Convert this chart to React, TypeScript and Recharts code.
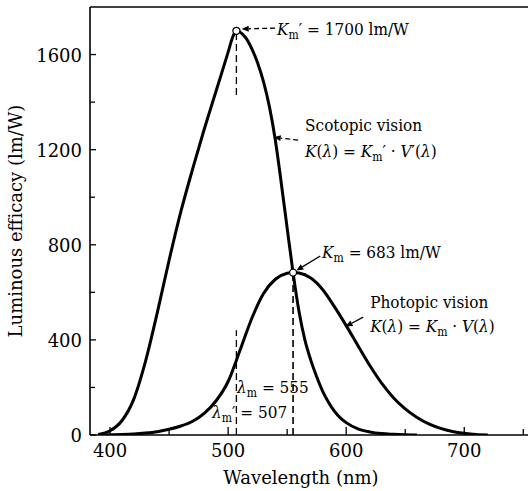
import React from 'react';
import { LineChart, Line, XAxis, YAxis, ReferenceLine, ReferenceDot } from 'recharts';

const FONT_MAIN = 'DejaVu Serif';
const FONT = 'DejaVu Serif Condensed';

// Photopic vision K(λ) = Km · V(λ)
const photopicWavelengths = [390, 400, 410, 420, 430, 440, 450, 460, 470, 480, 490, 500, 510, 520, 530, 540, 550, 555, 560, 570, 580, 590, 600, 610, 620, 630, 640, 650, 660, 670, 680, 690, 700, 710, 720];
const photopicEfficacy = [0, 1, 2, 4, 8, 14, 24, 38, 58, 92, 145, 225, 355, 490, 595, 655, 680, 683, 681, 660, 612, 540, 460, 375, 292, 218, 157, 110, 74, 47, 28, 15, 7, 2, 0];

// Scotopic vision K(λ) = Km' · V'(λ)
const scotopicWavelengths = [390, 400, 410, 420, 430, 440, 450, 460, 470, 480, 490, 500, 504, 507, 510, 515, 520, 525, 530, 535, 540, 545, 550, 555, 560, 565, 570, 575, 580, 585, 590, 595, 600, 610, 620, 630, 640, 650, 660];
const scotopicEfficacy = [2, 18, 60, 150, 310, 515, 735, 940, 1120, 1290, 1450, 1610, 1675, 1700, 1695, 1670, 1625, 1565, 1485, 1380, 1240, 1060, 870, 683, 520, 400, 315, 245, 185, 138, 100, 72, 52, 26, 13, 6, 3, 1, 0];

const xTicks = [400, 450, 500, 550, 600, 650, 700, 750];
const xMajorTicks = [400, 500, 600, 700];
const yTicks = [0, 200, 400, 600, 800, 1000, 1200, 1400, 1600];
const yMajorTicks = [0, 400, 800, 1200, 1600];

const photopicData = photopicWavelengths.map((x, i) => ({ x, v: photopicEfficacy[i] }));
const scotopicData = scotopicWavelengths.map((x, i) => ({ x, v: scotopicEfficacy[i] }));

const TICK_SZ = 18;
const TITLE_SZ = 18;

const XTick = (props: any) => {
  const { x, y, payload } = props;
  const major = xMajorTicks.includes(payload.value);
  return (
    <g>
      <line x1={x} x2={x} y1={y} y2={y - (major ? 8 : 6)} stroke="#000" strokeWidth={1.3} />
      {major && (
        <text x={x} y={y + 22} textAnchor="middle" fontSize={TICK_SZ} style={{ fontFamily: FONT_MAIN }} fill="#000">
          {payload.value}
        </text>
      )}
    </g>
  );
};

const YTick = (props: any) => {
  const { x, y, payload } = props;
  const major = yMajorTicks.includes(payload.value);
  return (
    <g>
      <line x1={x} x2={x + (major ? 6 : 5)} y1={y} y2={y} stroke="#000" strokeWidth={1.3} />
      {major && (
        <text x={x - 8} y={y + 7} textAnchor="end" fontSize={TICK_SZ} style={{ fontFamily: FONT_MAIN }} fill="#000">
          {payload.value}
        </text>
      )}
    </g>
  );
};

const SZ = 17;
const SUB = 12;

const textShape = (content: React.ReactNode) => (p: any) => (
  <text x={p.cx} y={p.cy} fontSize={SZ} style={{ fontFamily: FONT }} fill="#000">
    {content}
  </text>
);

const arrowShape = (dashed: boolean) => (p: any) => {
  const { x1, y1, x2, y2 } = p;
  const dx = x2 - x1;
  const dy = y2 - y1;
  const len = Math.sqrt(dx * dx + dy * dy) || 1;
  const ux = dx / len;
  const uy = dy / len;
  const hl = 7;
  const hw = 3;
  const bx = x2 - ux * hl;
  const by = y2 - uy * hl;
  const pts = `${x2},${y2} ${bx - uy * hw},${by + ux * hw} ${bx + uy * hw},${by - ux * hw}`;
  return (
    <g>
      <line x1={x1} y1={y1} x2={bx} y2={by} stroke="#000" strokeWidth={1.3} strokeDasharray={dashed ? '5 3' : undefined} />
      <polygon points={pts} fill="#000" />
    </g>
  );
};

const it = { fontStyle: 'italic' as const };

export default function App() {
  return (
    <div style={{ position: 'absolute', left: 0, top: 0 }}>
      <LineChart width={530} height={491} margin={{ top: 7, right: 2, bottom: 0, left: 0 }}>
        <XAxis
          type="number"
          dataKey="x"
          domain={[383, 754]}
          allowDataOverflow
          ticks={xTicks}
          interval={0}
          tickSize={0}
          tickMargin={0}
          tick={<XTick />}
          tickLine={false}
          axisLine={{ stroke: '#000', strokeWidth: 1.6 }}
          height={56}
          label={({ viewBox }: any) => (
            <text x={viewBox.x + viewBox.width / 2 - 8} y={viewBox.y + 49} textAnchor="middle" fontSize={TITLE_SZ} style={{ fontFamily: FONT_MAIN }} fill="#000">
              Wavelength (nm)
            </text>
          )}
        />
        <YAxis
          type="number"
          domain={[0, 1800]}
          allowDataOverflow
          ticks={yTicks}
          interval={0}
          tickSize={0}
          tickMargin={0}
          tick={<YTick />}
          tickLine={false}
          axisLine={{ stroke: '#000', strokeWidth: 1.6 }}
          width={90}
          label={({ viewBox }: any) => {
            const cx = 22;
            const cy = viewBox.y + viewBox.height / 2;
            return (
              <text x={cx} y={cy} transform={`rotate(-90 ${cx} ${cy})`} textAnchor="middle" fontSize={TITLE_SZ} style={{ fontFamily: FONT_MAIN }} fill="#000">
                Luminous efficacy (lm/W)
              </text>
            );
          }}
        />
        <ReferenceLine y={1800} stroke="#000" strokeWidth={1.6} />

        <ReferenceLine segment={[{ x: 507, y: 1430 }, { x: 507, y: 1700 }]} stroke="#000" strokeWidth={1.3} strokeDasharray="7 4" />
        <ReferenceLine segment={[{ x: 507, y: 0 }, { x: 507, y: 441 }]} stroke="#000" strokeWidth={1.3} strokeDasharray="7 4" />
        <ReferenceLine segment={[{ x: 555, y: 0 }, { x: 555, y: 683 }]} stroke="#000" strokeWidth={1.6} strokeDasharray="7 4" />

        <Line data={scotopicData} dataKey="v" type="monotone" stroke="#000" strokeWidth={3} dot={false} isAnimationActive={false} />
        <Line data={photopicData} dataKey="v" type="monotone" stroke="#000" strokeWidth={3} dot={false} isAnimationActive={false} />

        <ReferenceDot x={507} y={1700} r={3.5} fill="#fff" stroke="#000" strokeWidth={1.3} />
        <ReferenceDot x={555} y={683} r={3.5} fill="#fff" stroke="#000" strokeWidth={1.3} />

        <ReferenceLine segment={[{ x: 539.8, y: 1711 }, { x: 511.5, y: 1708 }]} shape={arrowShape(true)} />
        <ReferenceLine segment={[{ x: 559.3, y: 1240 }, { x: 538.6, y: 1252 }]} shape={arrowShape(true)} />
        <ReferenceLine segment={[{ x: 578, y: 753 }, { x: 557.8, y: 692 }]} shape={arrowShape(false)} />
        <ReferenceLine segment={[{ x: 614.4, y: 496 }, { x: 599.5, y: 456 }]} shape={arrowShape(false)} />

        <ReferenceDot
          x={541.5}
          y={1682}
          shape={textShape(
            <>
              <tspan {...it}>K</tspan>
              <tspan fontSize={SUB} dy={4}>m</tspan>
              <tspan dy={-4}>′ = 1700 lm/W</tspan>
            </>
          )}
        />
        <ReferenceDot x={565.2} y={1278} shape={textShape(<>Scotopic vision</>)} />
        <ReferenceDot
          x={565.2}
          y={1169}
          shape={textShape(
            <>
              <tspan {...it}>K</tspan>
              <tspan>(</tspan>
              <tspan {...it}>λ</tspan>
              <tspan>) = </tspan>
              <tspan {...it}>K</tspan>
              <tspan fontSize={SUB} dy={4}>m</tspan>
              <tspan dy={-4}>′ · </tspan>
              <tspan {...it}>V</tspan>
              <tspan>′(</tspan>
              <tspan {...it}>λ</tspan>
              <tspan>)</tspan>
            </>
          )}
        />
        <ReferenceDot
          x={579.6}
          y={744}
          shape={textShape(
            <>
              <tspan {...it}>K</tspan>
              <tspan fontSize={SUB} dy={4}>m</tspan>
              <tspan dy={-4}> = 683 lm/W</tspan>
            </>
          )}
        />
        <ReferenceDot x={620.3} y={534} shape={textShape(<>Photopic vision</>)} />
        <ReferenceDot
          x={620.3}
          y={433}
          shape={textShape(
            <>
              <tspan {...it}>K</tspan>
              <tspan>(</tspan>
              <tspan {...it}>λ</tspan>
              <tspan>) = </tspan>
              <tspan {...it}>K</tspan>
              <tspan fontSize={SUB} dy={4}>m</tspan>
              <tspan dy={-4}> · </tspan>
              <tspan {...it}>V</tspan>
              <tspan>(</tspan>
              <tspan {...it}>λ</tspan>
              <tspan>)</tspan>
            </>
          )}
        />
        <ReferenceDot
          x={507.6}
          y={177}
          shape={textShape(
            <>
              <tspan {...it}>λ</tspan>
              <tspan fontSize={SUB} dy={4}>m</tspan>
              <tspan dy={-4}> = 555</tspan>
            </>
          )}
        />
        <ReferenceDot
          x={486.4}
          y={71}
          shape={textShape(
            <>
              <tspan {...it}>λ</tspan>
              <tspan fontSize={SUB} dy={4}>m</tspan>
              <tspan dy={-4}>′ = 507</tspan>
            </>
          )}
        />
      </LineChart>
    </div>
  );
}
